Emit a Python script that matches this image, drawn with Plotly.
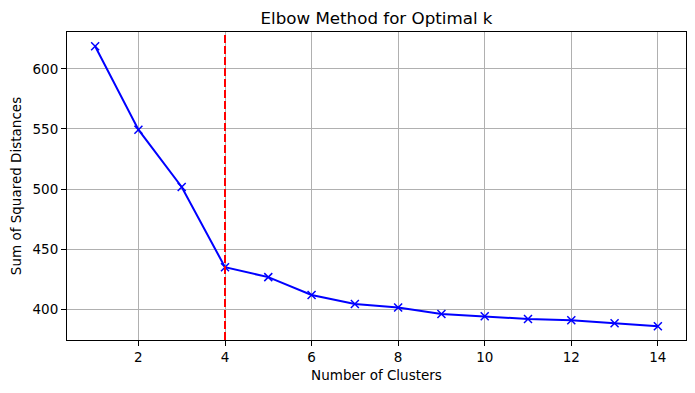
import plotly.graph_objects as go

k_values = list(range(1, 15))
sse = [618.8, 549.4, 501.7, 435.0, 426.7, 411.9, 404.4, 401.4, 396.1, 394.1, 391.9, 390.8, 388.3, 385.8]
optimal_k = 4
x_ticks = [2, 4, 6, 8, 10, 12, 14]
y_ticks = [400, 450, 500, 550, 600]

FONT = "DejaVu Sans"
# the page body has an 8px default margin; size the figure to compensate
W, H = 687, 385

fig = go.Figure()
fig.add_trace(go.Scatter(
    x=k_values, y=sse, mode="lines+markers",
    line=dict(color="blue", width=2),
    marker=dict(symbol="x-thin", size=8, line=dict(color="blue", width=1.5), color="blue"),
    showlegend=False,
))
fig.add_vline(x=optimal_k, line=dict(color="red", width=2, dash="8px,3px"), layer="above")

axis_common = dict(
    showline=True, linecolor="black", linewidth=1, mirror=True,
    ticks="outside", ticklen=5, tickwidth=1, tickcolor="black",
    showgrid=True, gridcolor="#b0b0b0", gridwidth=1, zeroline=False,
    tickfont=dict(family=FONT, size=13.5, color="black"),
    automargin=False,
)
fig.update_xaxes(range=[0.35, 14.65], tickvals=x_ticks,
                 title=dict(text="Number of Clusters", font=dict(family=FONT, size=13.5, color="black"), standoff=6),
                 **axis_common)
fig.update_yaxes(range=[374.4, 630.7], tickvals=y_ticks,
                 title=dict(text="Sum of Squared Distances", font=dict(family=FONT, size=13.5, color="black"), standoff=8),
                 **axis_common)
fig.update_layout(
    width=W, height=H,
    margin=dict(l=59, r=9, t=24, b=53),
    plot_bgcolor="white", paper_bgcolor="white",
    title=dict(text="Elbow Method for Optimal k", x=0.5, xanchor="center", xref="paper",
               y=1 - 10/H, yanchor="middle",
               font=dict(family=FONT, size=16.7, color="black")),
)
fig.write_html("out.html")
